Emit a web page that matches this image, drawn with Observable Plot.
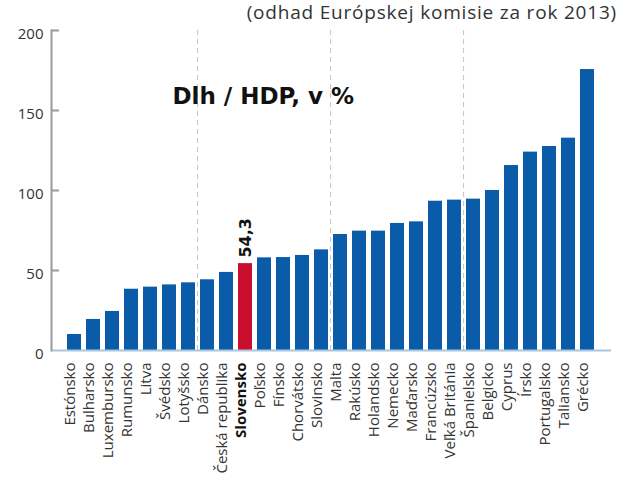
<!DOCTYPE html>
<html>
<head>
<meta charset="utf-8">
<script src="https://cdn.jsdelivr.net/npm/d3@7"></script>
<script src="https://cdn.jsdelivr.net/npm/@observablehq/plot@0.6"></script>
<style>
  html, body { margin: 0; padding: 0; background: #fff; }
  #sub { height: 26px; line-height: 25px; font-family: "Open Sans", sans-serif; font-size: 19px; letter-spacing: 0.8px; color: #333; text-align: right; padding-right: 19px; box-sizing: border-box; width: 636px; white-space: nowrap; }
</style>
</head>
<body>
<div id="sub">(odhad Európskej komisie za rok 2013)</div>
<div id="chart"></div>
<script>
const countries = ["Estónsko","Bulharsko","Luxembursko","Rumunsko","Litva","Švédsko","Lotyšsko","Dánsko","Česká republika","Slovensko","Poľsko","Fínsko","Chorvátsko","Slovinsko","Malta","Rakúsko","Holandsko","Nemecko","Maďarsko","Francúzsko","Veľká Británia","Španielsko","Belgicko","Cyprus","Írsko","Portugalsko","Taliansko","Grécko"];
const debt = [10.0,19.4,24.4,38.3,39.6,41.0,42.3,44.2,48.8,54.3,57.9,58.1,59.4,62.9,72.5,74.6,74.6,79.4,80.4,93.3,94.0,94.6,100.0,115.6,124.0,127.5,132.7,175.6];
const yTicks = [0,50,100,150,200];
const groupStarts = ["Dánsko","Malta","Španielsko"];
const highlight = "Slovensko";
const highlightLabel = "54,3";
const title = "Dlh / HDP, v %";

const data = countries.map((c, i) => ({country: c, value: debt[i]}));

const W = 636, H = 454, ML = 51, MR = 25, MT = 4, MB = 130, PAD = 0.26;
const plotW = W - ML - MR;
const step = plotW / (countries.length + PAD);
const blue = "#0b5ca8", red = "#c8102e";

const chart = Plot.plot({
  width: W, height: H,
  marginLeft: ML, marginRight: MR, marginTop: MT, marginBottom: MB,
  style: {overflow: "visible", fontFamily: "Open Sans, sans-serif", background: "#fff"},
  x: {domain: countries, padding: PAD, axis: null},
  y: {domain: [0, 200], axis: null},
  marks: [
    Plot.ruleX(groupStarts, {x: d => d, y1: 0, y2: 200, dx: -step / 2, stroke: "#c4c4c4", strokeDasharray: "5,4", strokeWidth: 1}),
    Plot.barY(data, {x: "country", y: "value", fill: d => d.country === highlight ? red : blue}),
    Plot.ruleY([0], {stroke: "#a9c6e0", strokeWidth: 2}),
    Plot.frame({anchor: "left", stroke: "#9a9a9a", strokeWidth: 2}),
    Plot.ruleY(yTicks.filter(t => t > 0), {y: d => d, stroke: "#9a9a9a", strokeWidth: 2, insetRight: plotW - 8}),
    Plot.axisY({ticks: yTicks, tickSize: 0, tickPadding: 8, fontSize: 15, fill: "#333", dy: 4, label: null}),
    Plot.text(data.filter(d => d.country !== highlight), {x: "country", text: "country", frameAnchor: "bottom", rotate: -90, textAnchor: "end", dy: 12, fontSize: 15, fill: "#333"}),
    Plot.text(data.filter(d => d.country === highlight), {x: "country", text: "country", frameAnchor: "bottom", rotate: -90, textAnchor: "end", dy: 12, fontSize: 15, fontWeight: "bold", fill: "#111"}),
    Plot.text(data.filter(d => d.country === highlight), {x: "country", y: "value", text: () => highlightLabel, rotate: -90, textAnchor: "start", dy: -6, fontSize: 16, fontWeight: "bold", fontFamily: "DejaVu Sans", fill: "#111"}),
    Plot.text([title], {text: d => d, frameAnchor: "top-left", dx: 121, dy: 57, fontSize: 23, fontWeight: "bold", fontFamily: "DejaVu Sans", fill: "#111"})
  ]
});
document.getElementById("chart").appendChild(chart);
</script>
</body>
</html>
